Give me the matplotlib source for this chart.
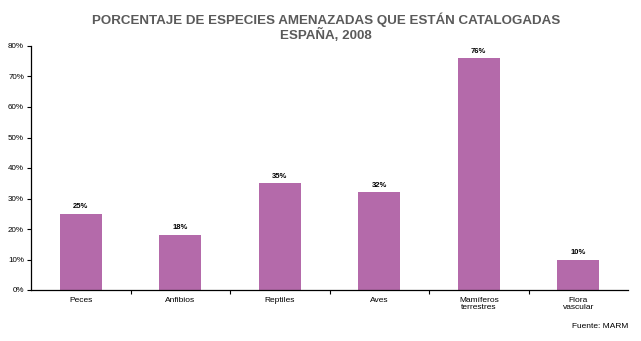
import matplotlib
matplotlib.use("Agg")
import matplotlib.pyplot as plt
import numpy as np

categories = ["Peces", "Anfibios", "Reptiles", "Aves", "Mamíferos\nterrestres", "Flora\nvascular"]
values = [25, 18, 35, 32, 76, 10]
yticks = [0, 10, 20, 30, 40, 50, 60, 70, 80]

plt.rcParams['font.family'] = ['Liberation Sans', 'DejaVu Sans']

fig = plt.figure(figsize=(6.41, 3.41), dpi=100)
ax = fig.add_axes([31/641, 1-290/341, (628-31)/641, (290-46)/341])

x = np.arange(len(categories))
bars = ax.bar(x, values, width=0.42, color="#b46aaa", zorder=2)
for xi, v in zip(x, values):
    ax.text(xi, v + 1.2, f"{v}%", ha="center", va="bottom", fontsize=5.5, fontweight="bold")

ax.set_xlim(-0.5, len(categories) - 0.5)
ax.set_ylim(0, 80)
ax.set_yticks(yticks)
ax.set_yticklabels([f"{t}%" for t in yticks], fontsize=5.8)
ax.set_xticks(x)
ax.set_xticklabels(categories, fontsize=6, linespacing=1.1)
ax.set_xticks(np.arange(0.5, len(categories) - 0.5, 1), minor=True)
ax.tick_params(axis="x", which="major", length=0, pad=5)
ax.tick_params(axis="x", which="minor", length=3, width=0.8)
ax.tick_params(axis="y", length=3, width=0.8, pad=2)
for s in ["top", "right"]:
    ax.spines[s].set_visible(False)
ax.spines["left"].set_linewidth(0.9)
ax.spines["bottom"].set_linewidth(0.9)

fig.text(0.508, 1-20/341, "PORCENTAJE DE ESPECIES AMENAZADAS QUE ESTÁN CATALOGADAS",
         ha="center", va="center", fontsize=9.6, fontweight="bold", color="#5a5a5a")
fig.text(0.508, 1-35/341, "ESPAÑA, 2008",
         ha="center", va="center", fontsize=9.6, fontweight="bold", color="#5a5a5a")
fig.text(628/641, 1-327/341, "Fuente: MARM", ha="right", va="center", fontsize=6)

fig.savefig("out.png", dpi=100)
